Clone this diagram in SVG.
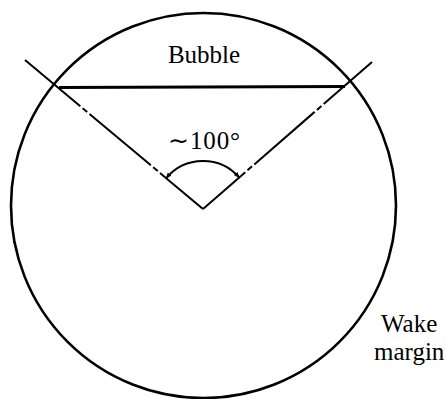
<svg xmlns="http://www.w3.org/2000/svg" width="446" height="399" viewBox="0 0 446 399">
  <defs>
    <style>
      .ln { stroke: #000; fill: none; stroke-linecap: butt; }
      .txt { font-family: "Liberation Serif", "Times New Roman", serif; font-size: 25px; fill: #000; }
    </style>
    <marker id="ah" viewBox="0 0 10 10" refX="9" refY="5" markerWidth="6" markerHeight="6" orient="auto-start-reverse" markerUnits="userSpaceOnUse">
      <path d="M0,1 L10,5 L0,9 Z" fill="#000"/>
    </marker>
  </defs>
  <rect width="446" height="399" fill="#fff"/>
  <g id="wake-circle">
    <circle class="ln" cx="203.5" cy="205.5" r="192.5" stroke-width="2.6"/>
  </g>
  <g id="bubble">
    <line class="ln" x1="59" y1="87.5" x2="345" y2="86.5" stroke-width="3"/>
    <text class="txt" x="204" y="63" text-anchor="middle">Bubble</text>
  </g>
  <g id="angle-label">
    <text class="txt" x="204" y="149" text-anchor="middle" textLength="72" lengthAdjust="spacing">∼100°</text>
  </g>
  <g id="wake-margin">
    <text class="txt" x="381" y="332">Wake</text>
    <text class="txt" x="374" y="360">margin</text>
  </g>
  <g id="connectors">
    <!-- left ray -->
    <line class="ln" x1="25" y1="60" x2="80.3" y2="106.3" stroke-width="2"/>
    <line class="ln" x1="80.3" y1="106.3" x2="164.7" y2="176.9" stroke-width="2" stroke-dasharray="0 3 6 3 80 3 6 3 20"/>
    <line class="ln" x1="164.7" y1="176.9" x2="203" y2="209" stroke-width="2"/>
    <!-- right ray -->
    <line class="ln" x1="372" y1="62" x2="323.7" y2="104" stroke-width="2"/>
    <line class="ln" x1="323.7" y1="104" x2="240.7" y2="176.2" stroke-width="2" stroke-dasharray="0 3 6 3 80 3 6 3 20"/>
    <line class="ln" x1="240.7" y1="176.2" x2="203" y2="209" stroke-width="2"/>
    <!-- angle arc -->
    <path class="ln" d="M166.2,178.2 A48,48 0 0 1 239.2,177.5" stroke-width="2" marker-start="url(#ah)" marker-end="url(#ah)"/>
  </g>
</svg>
